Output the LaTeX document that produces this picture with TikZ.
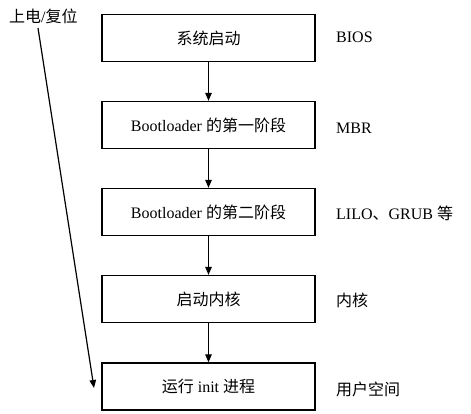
\documentclass[tikz,border=0pt]{standalone}
\usepackage{fontspec}
\setmainfont{Liberation Serif}
\newfontfamily\cjk{Noto Sans CJK SC}
\newfontfamily\lat{Liberation Serif}
\usetikzlibrary{arrows.meta}
\begin{document}
\begin{tikzpicture}[x=1pt,y=-1pt,
  box/.style={draw,line width=1.3pt,minimum width=213pt,minimum height=47pt,inner sep=0pt,font=\lat\fontsize{16}{19}\selectfont},
  lab/.style={anchor=west,inner sep=0pt,font=\lat\fontsize{16}{19}\selectfont},
  arr/.style={line width=1.2pt,-{Triangle[length=8pt,width=6.5pt]}}]
\useasboundingbox (0,0) rectangle (471,414);
\node[box] (b1) at (208.5,38) {\cjk 系统启动};
\node[box] (b2) at (208.5,125) {Bootloader {\cjk 的第一阶段}};
\node[box] (b3) at (208.5,212) {Bootloader {\cjk 的第二阶段}};
\node[box] (b4) at (208.5,299) {\cjk 启动内核};
\node[box] (b5) at (208.5,386.5) {{\cjk 运行} init {\cjk 进程}};
\node[lab] (l1) at (336,37) {BIOS};
\node[lab] (l2) at (336,128) {MBR};
\node[lab] (l3) at (336,213) {LILO{\cjk 、}GRUB {\cjk 等}};
\node[lab] (l4) at (336,300) {\cjk 内核};
\node[lab] (l5) at (336,389) {\cjk 用户空间};
\node[lab] (pw) at (9,16) {{\cjk 上电}/{\cjk 复位}};
\coordinate (s) at (38,28);
\coordinate (e) at (94,388);
\draw[arr] (b1) -- (b2);
\draw[arr] (b2) -- (b3);
\draw[arr] (b3) -- (b4);
\draw[arr] (b4) -- (b5);
\draw[arr] (s) -- (e);
\end{tikzpicture}
\end{document}
